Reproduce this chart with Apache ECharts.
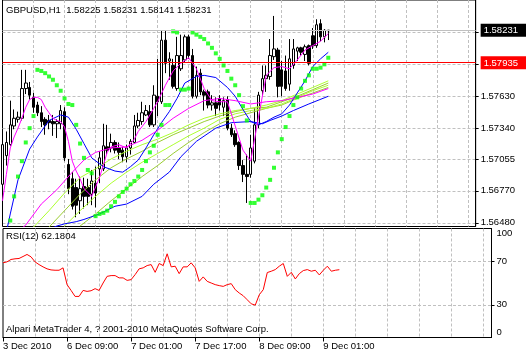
<!DOCTYPE html>
<html>
<head>
<meta charset="utf-8">
<style>
html, body { margin: 0; padding: 0; background: #fff; }
#chart { width: 529px; height: 355px; }
</style>
</head>
<body>
<div id="chart"></div>
<script src="https://cdn.jsdelivr.net/npm/echarts@6/dist/echarts.min.js"></script>
<script>
// hourly bars, [open, close, low, high]
var candles = [
[1.5683,1.5719,1.5645,1.5721],[1.5709,1.5721,1.5700,1.5731],[1.5719,1.5737,1.5718,1.5759],[1.5736,1.5743,1.5733,1.5751],
[1.5742,1.5744,1.5739,1.5749],[1.5743,1.5770,1.5741,1.5787],[1.5770,1.5775,1.5765,1.5787],[1.5771,1.5764,1.5760,1.5776],
[1.5762,1.5753,1.5748,1.5766],[1.5755,1.5748,1.5745,1.5758],[1.5748,1.5740,1.5735,1.5754],[1.5742,1.5737,1.5728,1.5744],
[1.5741,1.5739,1.5733,1.5746],[1.5740,1.5738,1.5727,1.5746],[1.5738,1.5740,1.5725,1.5742],[1.5738,1.5750,1.5733,1.5755],
[1.5749,1.5707,1.5704,1.5753],[1.5701,1.5679,1.5674,1.5706],[1.5688,1.5663,1.5660,1.5694],[1.5680,1.5664,1.5653,1.5688],
[1.5668,1.5679,1.5656,1.5690],[1.5681,1.5672,1.5661,1.5689],[1.5680,1.5672,1.5664,1.5688],[1.5674,1.5686,1.5664,1.5696],
[1.5684,1.5675,1.5662,1.5699],[1.5697,1.5707,1.5684,1.5713],[1.5697,1.5718,1.5695,1.5738],[1.5717,1.5714,1.5710,1.5737],
[1.5716,1.5721,1.5712,1.5729],[1.5721,1.5714,1.5711,1.5723],[1.5716,1.5712,1.5706,1.5721],[1.5714,1.5708,1.5703,1.5717],
[1.5708,1.5716,1.5703,1.5719],[1.5716,1.5722,1.5710,1.5724],[1.5721,1.5736,1.5721,1.5746],[1.5736,1.5741,1.5734,1.5748],
[1.5740,1.5748,1.5737,1.5758],[1.5746,1.5750,1.5745,1.5755],[1.5749,1.5737,1.5735,1.5755],[1.5737,1.5764,1.5735,1.5773],
[1.5763,1.5758,1.5745,1.5797],[1.5758,1.5814,1.5756,1.5823],[1.5814,1.5793,1.5784,1.5823],[1.5795,1.5797,1.5778,1.5803],
[1.5791,1.5772,1.5770,1.5797],[1.5770,1.5800,1.5768,1.5817],[1.5788,1.5800,1.5786,1.5819],[1.5796,1.5817,1.5794,1.5819],
[1.5817,1.5800,1.5797,1.5819],[1.5800,1.5763,1.5761,1.5806],[1.5763,1.5782,1.5761,1.5790],[1.5784,1.5767,1.5764,1.5788],
[1.5767,1.5764,1.5750,1.5769],[1.5767,1.5755,1.5752,1.5769],[1.5755,1.5757,1.5750,1.5764],[1.5757,1.5752,1.5745,1.5762],
[1.5761,1.5755,1.5750,1.5764],[1.5753,1.5759,1.5745,1.5762],[1.5760,1.5734,1.5732,1.5763],[1.5734,1.5728,1.5726,1.5738],
[1.5729,1.5719,1.5717,1.5732],[1.5721,1.5700,1.5696,1.5722],[1.5700,1.5692,1.5685,1.5705],[1.5692,1.5690,1.5666,1.5710],
[1.5692,1.5716,1.5689,1.5728],[1.5704,1.5737,1.5702,1.5752],[1.5737,1.5764,1.5734,1.5767],[1.5768,1.5779,1.5764,1.5791],
[1.5779,1.5782,1.5767,1.5791],[1.5781,1.5800,1.5778,1.5815],[1.5799,1.5806,1.5796,1.5836],[1.5805,1.5772,1.5762,1.5807],
[1.5787,1.5772,1.5763,1.5795],[1.5786,1.5770,1.5768,1.5800],[1.5774,1.5797,1.5768,1.5815],[1.5791,1.5806,1.5788,1.5815],
[1.5804,1.5807,1.5795,1.5808],[1.5807,1.5803,1.5800,1.5808],[1.5801,1.5808,1.5795,1.5810],[1.5809,1.5793,1.5791,1.5810],
[1.5818,1.5809,1.5806,1.5825],[1.5809,1.5828,1.5807,1.5833],[1.5829,1.5817,1.5813,1.5833],[1.5817,1.5823,1.5812,1.5824],
[1.58225,1.58231,1.58141,1.58231]
];

// parabolic SAR, one value per bar
var sar = [
null,null,1.5650,1.5672,1.5690,1.5704,1.5721,1.5734,1.5745,1.5787,
1.5786,1.5784,1.5781,1.5778,1.5773,1.5768,1.5761,1.5756,1.5755,1.5737,
1.5720,1.5707,1.5696,1.5693,1.5654,1.5656,1.5657,1.5659,1.5663,1.5667,
1.5672,1.5676,1.5679,1.5683,1.5686,1.5690,1.5696,1.5704,1.5712,1.5718,
1.5728,1.5737,1.5755,1.5755,1.5822,1.5821,1.5769,1.5769,1.5770,1.5821,
1.5819,1.5817,1.5815,1.5811,1.5807,1.5802,1.5797,1.5791,1.5786,1.5779,
1.5773,1.5764,1.5754,1.5741,1.5666,1.5666,1.5669,1.5673,1.5680,1.5687,
1.5698,1.5712,1.5724,1.5735,1.5745,1.5755,1.5762,1.5770,1.5777,1.5782,
1.5788,1.5788,1.5789,1.5792,1.5798
];

// RSI(12)
var rsi = [
68.5,69.4,71.6,72.2,72.5,74.3,76.2,74.0,69.4,66.9,
64.8,63.0,62.0,61.7,61.7,63.9,48.5,43.2,37.7,37.7,
43.2,42.3,42.9,44.8,43.2,50.0,56.1,56.8,56.8,54.7,
54.7,52.4,53.1,57.7,63.0,63.9,66.0,66.9,59.8,67.9,
66.0,76.8,64.8,65.4,58.6,64.8,64.8,68.5,63.9,51.5,
55.6,51.5,50.0,48.5,47.6,46.9,48.5,49.4,43.9,40.8,
38.3,34.6,30.9,29.7,39.2,43.9,59.6,60.8,62.3,65.4,
67.9,56.1,59.8,53.7,58.6,61.4,62.3,60.8,61.7,57.4,
61.7,65.4,60.8,61.7,62.2
];

// moving averages, [bar, price]
var magentaFast = [
[0,1.5668],[1,1.5692],[2,1.5716],[3,1.5726],[4,1.5734],[5,1.5743],[6,1.5753],[7,1.5760],[8,1.5762],[9,1.5762],
[10,1.5760],[11,1.5753],[12,1.5748],[13,1.5743],[14,1.5741],[15,1.5740],[16,1.5735],[17,1.5722],[18,1.5704],[19,1.5695],
[20,1.5688],[21,1.5679],[23,1.5672],[25,1.5689],[27,1.5712],[28,1.5717],[30,1.5719],[32,1.5716],[34,1.5724],[35,1.5731],
[37,1.5740],[39,1.5752],[40,1.5758],[42,1.5773],[44,1.5786],[46,1.5793],[48,1.5798],[50,1.5788],[52,1.5770],[54,1.5759],
[56,1.5758],[58,1.5758],[60,1.5736],[62,1.5714],[64,1.5704],[66,1.5744],[68,1.5782],[70,1.5789],[72,1.5790],[74,1.5788],
[76,1.5796],[78,1.5805],[80,1.5809],[82,1.5813],[84,1.5820]
];
var magentaSlow = [
[4,1.5640],[6,1.5646],[10,1.5665],[14,1.5678],[18,1.5694],[21,1.5705],[24,1.5712],[28,1.5716],[32,1.5717],[36,1.5723],
[40,1.5732],[44,1.5743],[48,1.5752],[52,1.5759],[56,1.5761],[60,1.5759],[64,1.5756],[68,1.5758],[72,1.5759],[76,1.5762],
[80,1.5765],[84,1.5770]
];
var blueFast = [
[0,1.5623],[2,1.5656],[4,1.5687],[7,1.5715],[9,1.5726],[12,1.5741],[15,1.5746],[17,1.5744],[19,1.5733],[21,1.5720],
[23,1.5707],[26,1.5699],[29,1.5695],[31,1.5694],[33,1.5699],[35,1.5705],[37,1.5716],[39,1.5728],[41,1.5739],[43,1.5749],
[45,1.5761],[47,1.5775],[50,1.5781],[52,1.5782],[55,1.5780],[58,1.5771],[60,1.5763],[62,1.5751],[64,1.5740],[66,1.5737],
[68,1.5740],[70,1.5744],[72,1.5747],[74,1.5755],[76,1.5766],[78,1.5777],[80,1.5790],[82,1.5797],[84,1.5803]
];
var blueSlow = [
[12,1.5642],[14,1.5645],[16,1.5647],[19,1.5649],[21,1.5651],[25,1.5656],[29,1.5663],[32,1.5665],[36,1.5672],[39,1.5683],
[43,1.5694],[46,1.5708],[50,1.5722],[55,1.5734],[59,1.5739],[64,1.5740],[67,1.5738],[69,1.5741],[72,1.5745],[75,1.5750],
[79,1.5756],[84,1.5763]
];
var green1 = [
[8,1.5644],[12,1.5659],[16,1.5675],[20,1.5689],[24,1.5697],[28,1.5706],[32,1.5713],[36,1.5719],[40,1.5724],[44,1.5730],
[48,1.5737],[52,1.5743],[56,1.5747],[60,1.5750],[64,1.5752],[68,1.5755],[72,1.5759],[76,1.5765],[80,1.5771],[84,1.5777]
];
var green2 = [
[12,1.5644],[16,1.5659],[20,1.5674],[24,1.5687],[28,1.5698],[32,1.5706],[36,1.5713],[40,1.5721],[44,1.5728],[48,1.5734],
[52,1.5740],[56,1.5745],[60,1.5749],[64,1.5752],[68,1.5753],[72,1.5758],[76,1.5763],[80,1.5769],[84,1.5775]
];
var green3 = [
[16,1.5645],[20,1.5659],[24,1.5672],[28,1.5684],[32,1.5694],[36,1.5703],[40,1.5711],[44,1.5719],[48,1.5727],[52,1.5734],
[56,1.5742],[60,1.5747],[64,1.5750],[68,1.5752],[72,1.5756],[76,1.5762],[80,1.5768],[84,1.5773]
];
var green4 = [
[20,1.5645],[24,1.5656],[28,1.5668],[32,1.5679],[36,1.5690],[40,1.5700],[44,1.5711],[48,1.5721],[52,1.5730],[56,1.5738],
[60,1.5744],[64,1.5748],[68,1.5752],[72,1.5755],[76,1.5761],[80,1.5766],[84,1.5771]
];

var priceTicks = [1.56480, 1.56770, 1.57055, 1.57340, 1.57630, 1.57920, 1.58210];
var priceLabels = [1.56480, 1.56770, 1.57055, 1.57340, 1.57630];
var rsiLabels = [0, 30, 70, 100];
var rsiLevels = [30, 70];
var timeLabels = ['3 Dec 2010', '6 Dec 09:00', '7 Dec 01:00', '7 Dec 17:00', '8 Dec 09:00', '9 Dec 01:00'];
var bidPrice = 1.58231;
var hLinePrice = 1.57935;

var slots = [];
for (var i = 0; i < 123; i++) slots.push(String(i));

var FONT = 'Liberation Sans';
var FS = 9.5;
var grid8 = function (idx) { return idx > 0 && idx % 8 === 0; };
var every16 = function (idx) { return idx % 16 === 0 && idx / 16 < timeLabels.length; };
var dash = { color: '#c0c0c0', type: [3, 2], width: 1 };

function lineSeries(data, color) {
    return {
        type: 'line', xAxisIndex: 0, yAxisIndex: 0, data: data,
        symbol: 'none', z: 3, silent: true,
        lineStyle: { color: color, width: 1 }
    };
}
function levelSeries(value, color) {
    return {
        type: 'line', xAxisIndex: 0, yAxisIndex: 0, data: [], z: 1, silent: true,
        markLine: {
            silent: true, symbol: ['none', 'none'], animation: false, precision: 5,
            label: { show: false },
            lineStyle: { color: color, type: 'solid', width: 1 },
            data: [{ yAxis: value }]
        }
    };
}

var chart = echarts.init(document.getElementById('chart'), null, { renderer: 'canvas' });
chart.setOption({
    animation: false,
    backgroundColor: '#fff',
    textStyle: { fontFamily: FONT, fontSize: FS, color: '#000' },
    grid: [
        { left: 2.5, right: 37.5, top: -1.5, height: 228, show: true, borderColor: '#000', borderWidth: 1, backgroundColor: '#fff' },
        { left: 2.5, right: 37.5, top: 228.5, height: 109, show: true, borderColor: '#000', borderWidth: 1, backgroundColor: '#fff' }
    ],
    xAxis: [
        {
            type: 'category', gridIndex: 0, data: slots, boundaryGap: false,
            axisLine: { show: false }, axisTick: { show: false }, axisLabel: { show: false },
            splitLine: { show: true, interval: grid8, lineStyle: dash }
        },
        {
            type: 'category', gridIndex: 1, data: slots, boundaryGap: false,
            axisLine: { show: true, lineStyle: { color: '#000' } },
            axisTick: { show: true, interval: every16, length: 4, lineStyle: { color: '#000' } },
            axisLabel: {
                show: true, interval: every16, align: 'left', margin: 4,
                fontFamily: FONT, fontSize: FS, color: '#000',
                formatter: function (v, idx) { return timeLabels[idx / 16] || ''; }
            },
            splitLine: { show: true, interval: grid8, lineStyle: dash }
        }
    ],
    yAxis: [
        {
            type: 'value', gridIndex: 0, position: 'right', min: 1.56446, max: 1.58505,
            axisLine: { show: true, lineStyle: { color: '#000' } },
            axisTick: { show: true, customValues: priceTicks, length: 3, lineStyle: { color: '#000' } },
            axisLabel: {
                show: true, customValues: priceLabels.concat([hLinePrice, bidPrice]), margin: 5,
                fontFamily: FONT, fontSize: FS, color: '#000',
                formatter: function (v) {
                    var s = v.toFixed(5);
                    if (Math.abs(v - bidPrice) < 1e-7) return '{bid|' + s + '}';
                    if (Math.abs(v - hLinePrice) < 1e-7) return '{hl|' + s + '}';
                    return s;
                },
                rich: {
                    bid: { color: '#fff', backgroundColor: '#000', padding: [2, 8, 1, 3], fontFamily: FONT, fontSize: FS },
                    hl: { color: '#fff', backgroundColor: '#ff0000', padding: [2, 8, 1, 3], fontFamily: FONT, fontSize: FS }
                }
            },
            splitLine: { show: true, lineStyle: dash }
        },
        {
            type: 'value', gridIndex: 1, position: 'right', min: 0, max: 100,
            axisLine: { show: true, lineStyle: { color: '#000' } },
            axisTick: { show: true, customValues: rsiLevels, length: 3, lineStyle: { color: '#000' } },
            axisLabel: {
                show: true, customValues: rsiLabels, margin: 5, fontFamily: FONT, fontSize: FS, color: '#000',
                verticalAlignMinLabel: 'bottom', verticalAlignMaxLabel: 'top'
            },
            splitLine: { show: true, lineStyle: dash }
        }
    ],
    graphic: [
        { type: 'text', left: 6, top: 5, z: 10, style: { text: 'GBPUSD,H1  1.58225 1.58231 1.58141 1.58231', fontFamily: FONT, fontSize: FS, fill: '#000' } },
        { type: 'text', left: 6, top: 231, z: 10, style: { text: 'RSI(12) 62.1804', fontFamily: FONT, fontSize: FS, fill: '#000' } },
        { type: 'text', left: 6, top: 324, z: 10, style: { text: 'Alpari MetaTrader 4, ? 2001-2010 MetaQuotes Software Corp.', fontFamily: FONT, fontSize: FS, fill: '#000' } }
    ],
    series: [
        levelSeries(bidPrice, '#c0c0c0'),
        levelSeries(hLinePrice, '#ff0000'),
        {
            type: 'candlestick', xAxisIndex: 0, yAxisIndex: 0, data: candles, barWidth: 3, z: 2, silent: true,
            itemStyle: { color: '#fff', color0: '#000', borderColor: '#000', borderColor0: '#000', borderColorDoji: '#000', borderWidth: 1 }
        },
        lineSeries(green4, '#9acd32'),
        lineSeries(green3, '#adff2f'),
        lineSeries(green2, '#9acd32'),
        lineSeries(green1, '#adff2f'),
        lineSeries(blueSlow, '#0000ff'),
        lineSeries(blueFast, '#0000ff'),
        lineSeries(magentaSlow, '#ff00ff'),
        lineSeries(magentaFast, '#ff00ff'),
        {
            type: 'scatter', xAxisIndex: 0, yAxisIndex: 0, data: sar, symbol: 'rect', symbolSize: 4, z: 4, silent: true,
            itemStyle: { color: '#00ff00' }
        },
        {
            type: 'line', xAxisIndex: 1, yAxisIndex: 1, data: rsi, symbol: 'none', silent: true,
            lineStyle: { color: '#ff0000', width: 1 }
        }
    ]
});
</script>
</body>
</html>
